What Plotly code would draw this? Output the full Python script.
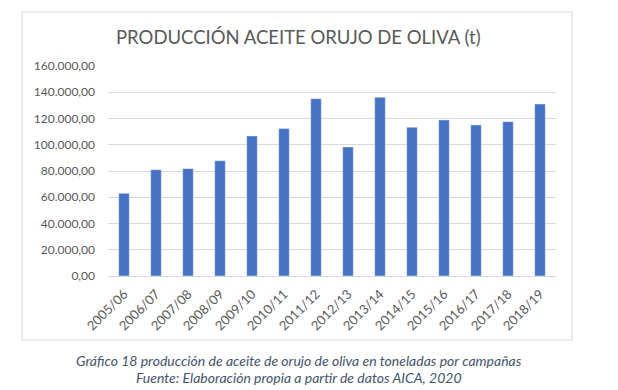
import plotly.graph_objects as go

campaigns = ["2005/06", "2006/07", "2007/08", "2008/09", "2009/10", "2010/11", "2011/12",
             "2012/13", "2013/14", "2014/15", "2015/16", "2016/17", "2017/18", "2018/19"]
production = [63000, 81000, 81800, 87800, 106700, 112300, 135100,
              98300, 136200, 113300, 118900, 115100, 117600, 131000]
y_ticks = [0, 20000, 40000, 60000, 80000, 100000, 120000, 140000, 160000]

title_text = "PRODUCCIÓN ACEITE ORUJO DE OLIVA (t)"
caption_1 = "Gráfico 18 producción de aceite de orujo de oliva en toneladas por campañas"
caption_2 = "Fuente: Elaboración propia a partir de datos AICA, 2020"

OFF = 8  # browser default body margin
W, H = 618 - OFF, 390 - OFF
L, R, T, B = 108 - OFF, 556 - OFF, 66 - OFF, 276 - OFF  # plot area in pixels


def px(x):
    return (x - OFF - L) / (R - L)


def py(y):
    return (B - (y - OFF)) / (B - T)


fig = go.Figure(go.Bar(
    x=campaigns, y=production, marker_color="#4472C4", width=0.33,
    hoverinfo="x+y",
))

fig.update_layout(
    width=W, height=H,
    margin=dict(l=L, r=W - R, t=T, b=H - B, autoexpand=False),
    paper_bgcolor="white", plot_bgcolor="white",
    separators=",.",
    font=dict(family="Lato, Open Sans, sans-serif", color="#595959", size=12),
    showlegend=False,
    xaxis=dict(tickangle=-45, showgrid=False, showline=False, ticks="",
               automargin=False, ticklabelstandoff=7,
               tickfont=dict(size=13, color="#595959"), range=[-0.5, 13.5]),
    yaxis=dict(range=[0, 160000], tickvals=y_ticks, tickformat=",.2f",
               automargin=False,
               showgrid=True, gridcolor="#d9d9d9", gridwidth=1, zeroline=True,
               zerolinecolor="#d9d9d9", zerolinewidth=1, showline=False, ticks="",
               ticklabelstandoff=12, tickfont=dict(size=12, color="#595959")),
    shapes=[dict(type="rect", xref="paper", yref="paper",
                 x0=px(22), x1=px(572), y0=py(340), y1=py(12),
                 line=dict(color="#d9d9d9", width=1), fillcolor="rgba(0,0,0,0)",
                 layer="below")],
    annotations=[
        dict(text=title_text, xref="paper", yref="paper", x=px(298), y=py(37),
             showarrow=False, xanchor="center", yanchor="middle",
             font=dict(size=18.5, color="#595959", family="Lato, Open Sans, sans-serif")),
        dict(text="<i>" + caption_1 + "</i>", xref="paper", yref="paper", x=px(299), y=py(360),
             showarrow=False, xanchor="center", yanchor="middle",
             font=dict(size=14, color="#44546A", family="Lato, Open Sans, sans-serif")),
        dict(text="<i>" + caption_2 + "</i>", xref="paper", yref="paper", x=px(299), y=py(377),
             showarrow=False, xanchor="center", yanchor="middle",
             font=dict(size=14, color="#44546A", family="Lato, Open Sans, sans-serif")),
    ],
)

fig.write_html("out.html")
